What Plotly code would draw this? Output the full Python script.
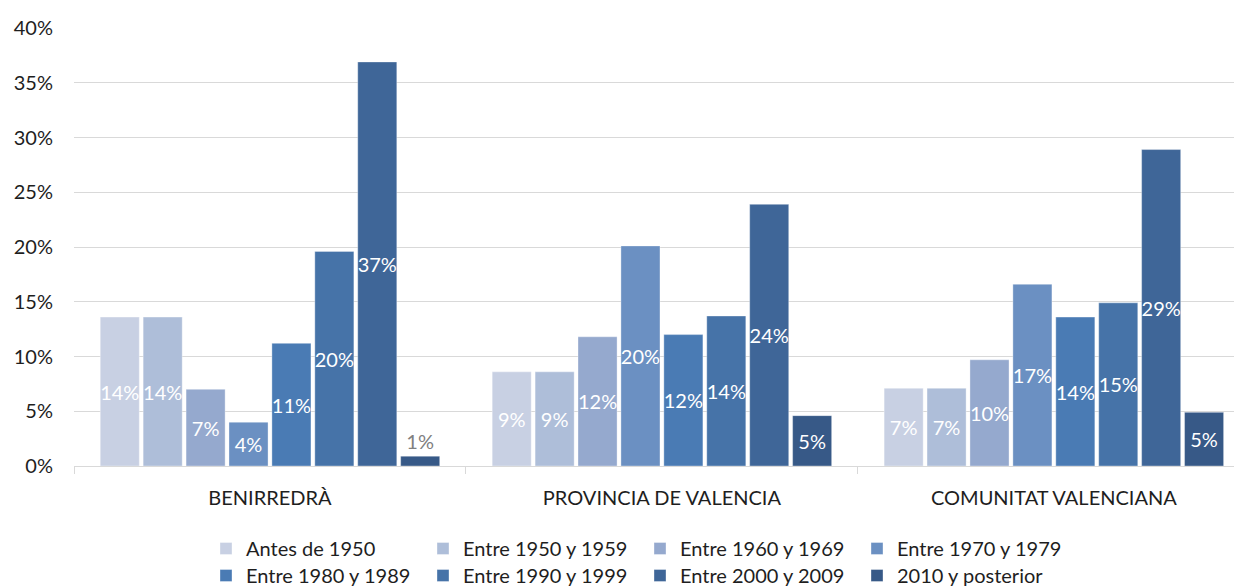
import plotly.graph_objects as go

categories = ["BENIRREDRÀ", "PROVINCIA DE VALENCIA", "COMUNITAT VALENCIANA"]
series_names = ["Antes de 1950", "Entre 1950 y 1959", "Entre 1960 y 1969", "Entre 1970 y 1979",
                "Entre 1980 y 1989", "Entre 1990 y 1999", "Entre 2000 y 2009", "2010 y posterior"]

# percentages per region, one value per series
benirredra = [13.6, 13.6, 7.0, 4.0, 11.2, 19.6, 36.9, 0.9]
provincia = [8.6, 8.6, 11.8, 20.1, 12.0, 13.7, 23.9, 4.6]
comunitat = [7.1, 7.1, 9.7, 16.6, 13.6, 14.9, 28.9, 4.9]

colors = ["#c8d0e3", "#aebed9", "#95a9ce", "#6b90c2", "#4a7bb4", "#4673a8", "#3f6698", "#375987"]

FONT = "Lato"
TXT = "#1e1e1e"
W, H = 1234, 579  # page body has an 8px margin
regions = [benirredra, provincia, comunitat]

fig = go.Figure()
for i, name in enumerate(series_names):
    vals = [r[i] / 100 for r in regions]
    pos = []
    tcol = []
    for v in vals:
        if v < 0.02:
            pos.append("outside")
            tcol.append("#808080")
        else:
            pos.append("inside")
            tcol.append("#ffffff")
    fig.add_trace(go.Bar(
        name=name, x=categories, y=vals,
        legend="legend" if i < 4 else "legend2",
        marker=dict(color=colors[i], line=dict(color="rgba(255,255,255,0.35)", width=1)),
        texttemplate="%{y:.0%}", textposition=pos, insidetextanchor="middle",
        textangle=0, textfont=dict(family=FONT, size=20, color=tcol),
        cliponaxis=False, hoverinfo="skip",
    ))

leg_common = dict(orientation="h", xref="container", x=198 / W, xanchor="left",
                  yref="container", yanchor="top",
                  entrywidth=172, entrywidthmode="pixels",
                  font=dict(family=FONT, size=20, color=TXT),
                  traceorder="normal", bgcolor="rgba(0,0,0,0)")

fig.update_layout(
    width=W, height=H,
    margin=dict(l=66, r=0, t=20, b=121, autoexpand=False),
    paper_bgcolor="white", plot_bgcolor="white",
    barmode="group", bargap=0.124, bargroupgap=0.09,
    font=dict(family=FONT, size=20, color=TXT),
    uniformtext=dict(mode="show", minsize=20),
    legend=dict(leg_common, y=1 - 521 / H),
    legend2=dict(leg_common, y=1 - 548 / H),
    showlegend=True,
)
fig.update_xaxes(type="category", range=[-0.5, 2.48], tickson="boundaries",
                 ticks="outside", ticklen=7, tickcolor="#d9d9d9", tickwidth=1,
                 showline=True, linecolor="#d9d9d9", linewidth=1, showgrid=False,
                 automargin=False, ticklabelstandoff=14,
                 tickfont=dict(family=FONT, size=20, color=TXT))
fig.update_yaxes(range=[0, 0.4], dtick=0.05, tickformat=".0%", showgrid=True,
                 gridcolor="#d9d9d9", gridwidth=1, zeroline=False, showline=False,
                 ticks="", ticklabelstandoff=20, automargin=False,
                 tickfont=dict(family=FONT, size=20, color=TXT))

fig.write_html("out.html")
